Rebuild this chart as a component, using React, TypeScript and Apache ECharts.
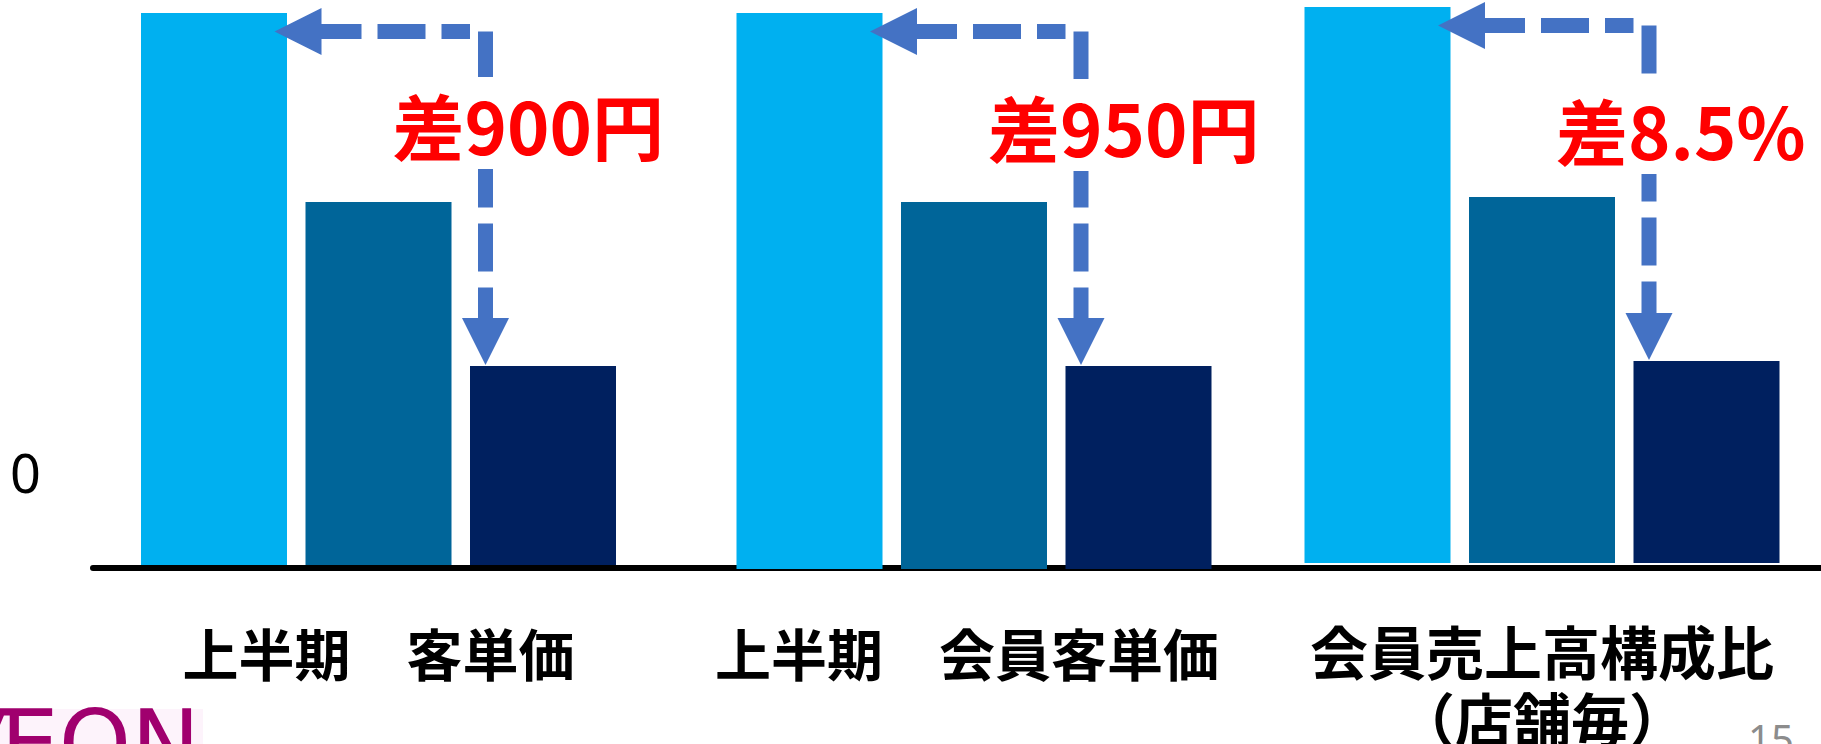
import React, { useEffect, useRef } from 'react';
import * as echarts from 'echarts';

// ---------- data ----------
const categories = ['上半期　客単価', '上半期　会員客単価', '会員売上高構成比\n（店舗毎）'];
const seriesNames = ['会員', '全体', '非会員'];
const memberValues = [552, 556, 556];
const totalValues = [363, 367, 366];
const nonMemberValues = [199, 203, 202];
const diffLabels = ['差900円', '差950円', '差8.5%'];
const yTickLabels = ['0'];
const pageNumber = ['15'];
const logoLabel = ['ÆON'];

// ---------- style / layout ----------
const colors = ['#00B0F0', '#006599', '#00205F'];
const ARROW = '#4472C4';
const Y_MAX = 560;
const BAR_W = 146;
const BAR_GAP = 18.5;
const centers = [378.5, 974, 1542];
const bottoms = [565, 569, 563];
const labelSizes = [56, 56, 58];
const labelMargins = [52.5, 48.5, 53.5];
const labelPads = [[0, 0, 0, 0], [0, 14, 0, 0], [0, 0, 0, 0]];
const diffTextY = [123, 125, 128];

export default function App() {
  const ref = useRef<HTMLDivElement>(null);

  useEffect(() => {
    document.body.style.margin = '0';
    const chart = echarts.init(ref.current!, null, { renderer: 'svg' });
    const seriesData = [memberValues, totalValues, nonMemberValues];

    const grids: any[] = [];
    const xAxes: any[] = [];
    const yAxes: any[] = [];
    const series: any[] = [];

    for (let gi = 0; gi < 3; gi++) {
      grids.push({
        left: centers[gi] - 260,
        width: 520,
        top: bottoms[gi] - Y_MAX,
        height: Y_MAX,
        containLabel: false,
        outerBoundsMode: 'none',
      });
      xAxes.push({
        type: 'category',
        gridIndex: gi,
        data: [categories[gi]],
        axisLine: { show: false },
        axisTick: { show: false },
        axisLabel: {
          interval: 0,
          color: '#000',
          fontSize: labelSizes[gi],
          fontWeight: 'bold',
          fontFamily: '"Noto Sans CJK JP", sans-serif',
          lineHeight: 67,
          margin: labelMargins[gi],
          padding: labelPads[gi],
          align: 'center',
        },
      });
      yAxes.push({
        type: 'value',
        gridIndex: gi,
        min: 0,
        max: Y_MAX,
        show: false,
        splitLine: { show: false },
      });
      for (let si = 0; si < 3; si++) {
        series.push({
          type: 'bar',
          name: seriesNames[si],
          xAxisIndex: gi,
          yAxisIndex: gi,
          data: [seriesData[si][gi]],
          barWidth: BAR_W,
          barGap: (BAR_GAP / BAR_W) * 100 + '%',
          itemStyle: { color: colors[si] },
          z: 3,
        });
      }
    }

    // baseline axis across the whole chart
    grids.push({ left: 93, width: 1821 - 93, top: 0, height: 568, containLabel: false, outerBoundsMode: 'none' });
    xAxes.push({
      type: 'value',
      gridIndex: 3,
      min: 0,
      max: 1,
      axisLine: { show: true, onZero: false, lineStyle: { color: '#000', width: 6 } },
      axisTick: { show: false },
      axisLabel: { show: false },
      splitLine: { show: false },
      z: 1,
    });
    yAxes.push({ type: 'value', gridIndex: 3, min: 0, max: 1, show: false, splitLine: { show: false } });

    chart.setOption({
      animation: false,
      backgroundColor: '#fff',
      grid: grids,
      xAxis: xAxes,
      yAxis: yAxes,
      series,
    });

    // ---------- annotations derived from the axes ----------
    const graphics: any[] = [];
    const total = 3 * BAR_W + 2 * BAR_GAP;
    for (let gi = 0; gi < 3; gi++) {
      const cx = (chart.convertToPixel({ gridIndex: gi } as any, [0, 0]) as number[])[0];
      const yOf = (v: number) => (chart.convertToPixel({ gridIndex: gi } as any, [0, v]) as number[])[1];
      const left0 = cx - total / 2;
      const lightRight = left0 + BAR_W;
      const navyLeft = left0 + 2 * (BAR_W + BAR_GAP);
      const lightTop = yOf(memberValues[gi]);
      const navyTop = yOf(nonMemberValues[gi]);
      const hy = lightTop + 18.5;
      const vx = navyLeft + 15.5;
      const tipX = lightRight - 12.5;
      const vTip = navyTop - 1;
      const head = 47;
      const half = 23.5;
      const lineStyle = { stroke: ARROW, lineWidth: 15, lineDash: [48, 16], fill: null };

      graphics.push({
        type: 'line',
        shape: { x1: tipX + head - 8, y1: hy, x2: navyLeft, y2: hy },
        style: lineStyle,
        z: 20,
      });
      graphics.push({
        type: 'line',
        shape: { x1: vx, y1: hy, x2: vx, y2: vTip - head + 2 },
        style: lineStyle,
        z: 20,
      });
      graphics.push({
        type: 'text',
        x: vx - 93,
        y: diffTextY[gi],
        z: 30,
        style: {
          text: diffLabels[gi],
          fill: '#FF0000',
          font: 'bold 72px "Noto Sans CJK JP", sans-serif',
          align: 'left',
          verticalAlign: 'middle',
          textAlign: 'left',
          textVerticalAlign: 'middle',
          backgroundColor: '#fff',
          padding: [10, 0, 10, 0],
        },
      });
      graphics.push({
        type: 'polygon',
        shape: { points: [[tipX, hy], [tipX + head, hy - half], [tipX + head, hy + half]] },
        style: { fill: ARROW },
        z: 25,
      });
      graphics.push({
        type: 'polygon',
        shape: { points: [[vx, vTip], [vx - half, vTip - head], [vx + half, vTip - head]] },
        style: { fill: ARROW },
        z: 25,
      });
    }

    // stray zero tick label
    graphics.push({
      type: 'text',
      x: 10,
      y: 472,
      z: 30,
      style: {
        text: yTickLabels[0],
        fill: '#000',
        font: 'normal 54px "Noto Sans", sans-serif',
        align: 'left',
        verticalAlign: 'middle',
        textAlign: 'left',
        textVerticalAlign: 'middle',
      },
    });
    // page number
    graphics.push({
      type: 'text',
      x: 1748,
      y: 738,
      z: 30,
      style: {
        text: pageNumber[0],
        fill: '#8C8C8C',
        font: 'normal 40px "Noto Sans", sans-serif',
        align: 'left',
        verticalAlign: 'middle',
        textAlign: 'left',
        textVerticalAlign: 'middle',
      },
    });
    // logo (cropped)
    graphics.push({
      type: 'rect',
      shape: { x: 0, y: 709, width: 203, height: 35 },
      style: { fill: '#FDF3FB' },
      z: 28,
    });
    graphics.push({
      type: 'text',
      x: 200,
      y: 698,
      z: 30,
      style: {
        text: logoLabel[0],
        fill: '#A0006E',
        font: 'normal 92px "DejaVu Sans", sans-serif',
        align: 'right',
        verticalAlign: 'top',
        textAlign: 'right',
        textVerticalAlign: 'top',
      },
    });

    chart.setOption({ graphic: graphics });

    return () => chart.dispose();
  }, []);

  return (
    <div
      ref={ref}
      style={{ position: 'absolute', left: 0, top: 0, width: 1821, height: 744 }}
    />
  );
}
